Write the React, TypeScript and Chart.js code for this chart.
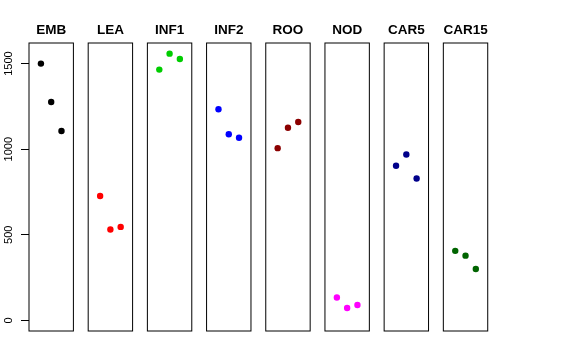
import React, { useEffect, useRef } from "react";
import { Chart, registerables } from "chart.js";

Chart.register(...registerables);

// ---- data ----
const groups = ["EMB", "LEA", "INF1", "INF2", "ROO", "NOD", "CAR5", "CAR15"];
const replicates = [1, 2, 3];
const EMB = [1500, 1276, 1106];
const LEA = [726, 531, 546];
const INF1 = [1465, 1558, 1527];
const INF2 = [1233, 1087, 1067];
const ROO = [1006, 1125, 1159];
const NOD = [133, 72, 90];
const CAR5 = [903, 969, 829];
const CAR15 = [406, 378, 300];
const yTickValues = [0, 500, 1000, 1500];
const yTickLabels = ["0", "500", "1000", "1500"];

const seriesValues = [EMB, LEA, INF1, INF2, ROO, NOD, CAR5, CAR15];

// ---- styles / layout ----
const colors = ["#000000", "#FF0000", "#00CD00", "#0000FF", "#8B0000", "#FF00FF", "#00008B", "#006400"];
const FONT = "'Liberation Sans', Arial, Helvetica, sans-serif";
const Y_MIN = -62.3;
const Y_MAX = 1620.3;
const X_MIN = -0.16;
const X_MAX = 4.16;
const PANEL0 = 29;
const STEP = 59.19;
const PW = 44.4;
const TOP = 43;
const BOTTOM = 331;
const H = 360;

const boxPlugin = {
  id: "panelBox",
  afterDraw(chart: any) {
    const { ctx, chartArea } = chart;
    ctx.save();
    ctx.strokeStyle = "#000";
    ctx.lineWidth = 1;
    ctx.strokeRect(chartArea.left, chartArea.top, chartArea.right - chartArea.left, chartArea.bottom - chartArea.top);
    // panel title, centred over the panel
    const title = chart.options.plugins.panelTitle.text;
    ctx.fillStyle = "#000";
    ctx.font = `bold 13.5px ${FONT}`;
    ctx.textAlign = "center";
    ctx.textBaseline = "alphabetic";
    ctx.fillText(title, (chartArea.left + chartArea.right) / 2, chartArea.top - 8.8);
    ctx.restore();
  },
};

const yLabelPlugin = {
  id: "yLabels",
  afterDraw(chart: any) {
    const { ctx } = chart;
    const y = chart.scales.y;
    ctx.save();
    ctx.fillStyle = "#000";
    ctx.font = `11px ${FONT}`;
    ctx.textAlign = "center";
    ctx.textBaseline = "middle";
    yTickValues.forEach((v, i) => {
      const py = y.getPixelForValue(v);
      ctx.save();
      ctx.translate(8.5, py);
      ctx.rotate(-Math.PI / 2);
      ctx.fillText(yTickLabels[i], 0, 0);
      ctx.restore();
    });
    ctx.restore();
  },
};

function Panel({ index }: { index: number }) {
  const ref = useRef<HTMLCanvasElement>(null);
  const first = index === 0;
  const left = PANEL0 + STEP * index;
  const cLeft = first ? 0 : Math.floor(left) - 4;
  const cWidth = first ? Math.ceil(left + PW) + 4 : 54;
  const padLeft = first ? 0 : left - cLeft;
  const padRight = cWidth - (left + PW - cLeft);

  useEffect(() => {
    if (!ref.current) return;
    const chart = new Chart(ref.current, {
      type: "scatter",
      data: {
        datasets: [
          {
            data: replicates.map((r, j) => ({ x: r, y: seriesValues[index][j] })),
            backgroundColor: colors[index],
            borderColor: colors[index],
            pointRadius: 3.2,
            pointBorderWidth: 0,
            pointHoverRadius: 3.2,
          },
        ],
      },
      options: {
        responsive: false,
        animation: false,
        devicePixelRatio: 1,
        events: [],
        layout: { padding: { left: padLeft, right: padRight, top: TOP, bottom: H - BOTTOM } },
        plugins: {
          legend: { display: false },
          tooltip: { enabled: false },
          title: { display: false },
          panelTitle: { text: groups[index] },
        },
        scales: {
          x: { type: "linear", display: false, min: X_MIN, max: X_MAX },
          y: {
            type: "linear",
            display: first,
            min: Y_MIN,
            max: Y_MAX,
            afterBuildTicks: (s: any) => {
              s.ticks = yTickValues.map((v) => ({ value: v }));
            },
            afterFit: (s: any) => {
              if (first) s.width = PANEL0;
            },
            ticks: { display: false },
            grid: { drawOnChartArea: false, drawTicks: true, tickLength: 8, color: "#000", lineWidth: 1 },
            border: { display: false },
          },
        },
      } as any,
      plugins: first ? [boxPlugin, yLabelPlugin] : [boxPlugin],
    });
    return () => chart.destroy();
  }, []);

  return (
    <canvas
      ref={ref}
      width={cWidth}
      height={H}
      style={{ position: "absolute", left: cLeft, top: 0, width: cWidth, height: H }}
    />
  );
}

export default function App() {
  return (
    <div style={{ position: "absolute", left: 0, top: 0, width: 576, height: 360, background: "#fff" }}>
      {groups.map((g, i) => (
        <Panel key={g} index={i} />
      ))}
    </div>
  );
}
